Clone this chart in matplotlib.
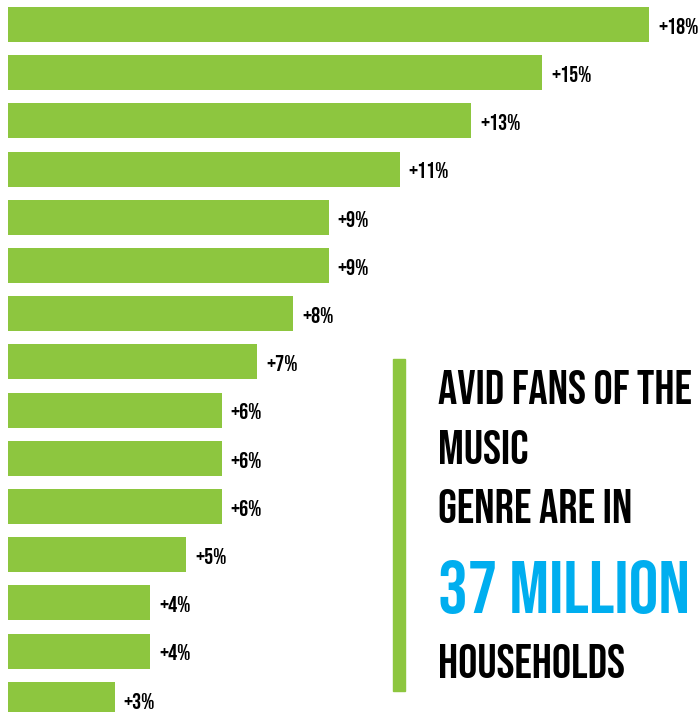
import matplotlib
matplotlib.use("Agg")
import matplotlib.pyplot as plt
from matplotlib.patches import Rectangle

values = [18, 15, 13, 11, 9, 9, 8, 7, 6, 6, 6, 5, 4, 4, 3]
labels = ["+18%", "+15%", "+13%", "+11%", "+9%", "+9%", "+8%", "+7%",
          "+6%", "+6%", "+6%", "+5%", "+4%", "+4%", "+3%"]
text_lines = ["AVID FANS OF THE", "MUSIC", "GENRE ARE IN"]
highlight = "37 MILLION"
last_line = "HOUSEHOLDS"

GREEN = "#8DC63F"
BLUE = "#00AEEF"
FONT = ["Bebas Neue", "DejaVu Sans"]

W, H = 698, 712
fig = plt.figure(figsize=(W / 100, H / 100), dpi=100)
ax = fig.add_axes([0, 0, 1, 1])

px_per_unit = 641 / 18
x0 = 8
ax.set_xlim(-x0 / px_per_unit, (W - x0) / px_per_unit)
pitch = 48.2
c0 = 24.5
ax.set_ylim((H - c0) / pitch, -c0 / pitch)

ypos = list(range(len(values)))
ax.barh(ypos, values, height=35 / pitch, color=GREEN, edgecolor="none")
for y, v, lab in zip(ypos, values, labels):
    ax.annotate(lab, (v, y), xytext=(6.5, -1), textcoords="offset points",
                va="center", ha="left", fontsize=16.3, family=FONT, color="black")
ax.axis("off")

# right text block
fig.patches.append(Rectangle((393 / W, 1 - 691 / H), 12 / W, (691 - 359) / H,
                             transform=fig.transFigure, color=GREEN, zorder=0))
tx = 438 / W
for line, base in zip(text_lines, [404, 464, 523]):
    fig.text(tx, 1 - base / H, line, fontsize=34.5, family=FONT, color="black",
             va="baseline", ha="left")
fig.text(tx, 1 - 613 / H, highlight, fontsize=53.5, family=FONT, color=BLUE,
         va="baseline", ha="left")
fig.text(tx, 1 - 678 / H, last_line, fontsize=34.5, family=FONT, color="black",
         va="baseline", ha="left")

fig.savefig("out.png", dpi=100)
